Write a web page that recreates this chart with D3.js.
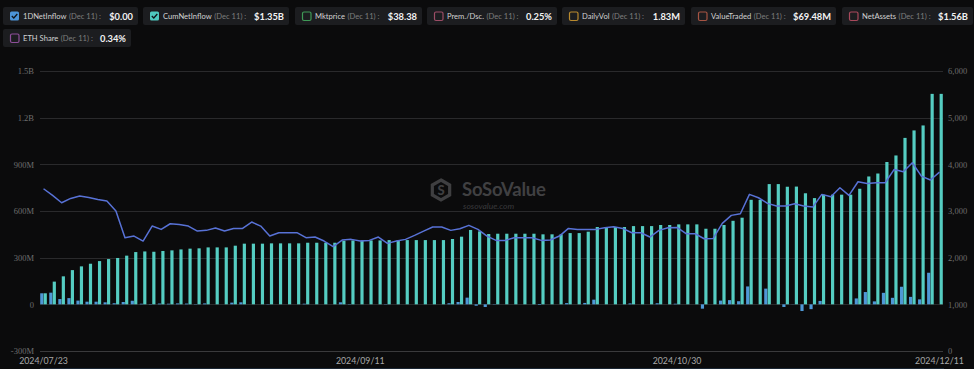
<!DOCTYPE html>
<html><head><meta charset="utf-8">
<script src="https://cdn.jsdelivr.net/npm/d3@7"></script>
<style>
html,body{margin:0;padding:0;background:#0b0b0c;}
svg{display:block;}
</style></head>
<body>
<svg id="chart" width="974" height="369"></svg>
<script>
// ---------- DATA ----------
const dates = [
"2024/07/23","2024/07/24","2024/07/25","2024/07/26","2024/07/29","2024/07/30","2024/07/31",
"2024/08/01","2024/08/02","2024/08/05","2024/08/06","2024/08/07","2024/08/08","2024/08/09","2024/08/12","2024/08/13","2024/08/14","2024/08/15","2024/08/16","2024/08/19","2024/08/20","2024/08/21","2024/08/22","2024/08/23","2024/08/26","2024/08/27","2024/08/28","2024/08/29","2024/08/30",
"2024/09/03","2024/09/04","2024/09/05","2024/09/06","2024/09/09","2024/09/10","2024/09/11","2024/09/12","2024/09/13","2024/09/16","2024/09/17","2024/09/18","2024/09/19","2024/09/20","2024/09/23","2024/09/24","2024/09/25","2024/09/26","2024/09/27","2024/09/30",
"2024/10/01","2024/10/02","2024/10/03","2024/10/04","2024/10/07","2024/10/08","2024/10/09","2024/10/10","2024/10/11","2024/10/14","2024/10/15","2024/10/16","2024/10/17","2024/10/18","2024/10/21","2024/10/22","2024/10/23","2024/10/24","2024/10/25","2024/10/28","2024/10/29","2024/10/30","2024/10/31",
"2024/11/01","2024/11/04","2024/11/05","2024/11/06","2024/11/07","2024/11/08","2024/11/11","2024/11/12","2024/11/13","2024/11/14","2024/11/15","2024/11/18","2024/11/19","2024/11/20","2024/11/21","2024/11/22","2024/11/25","2024/11/26","2024/11/27","2024/11/29",
"2024/12/02","2024/12/03","2024/12/04","2024/12/05","2024/12/06","2024/12/09","2024/12/10","2024/12/11"
];
// 1D net inflow, $M
const dailyNetInflow = [
71,75,34,40,24,17,17,13,7,15,
23,4,-2,5,4,6,5,2,6,0,
0,11,13,0,0,2,0,0,0,4,
0,0,0,13,2,0,0,0,2,0,
0,0,0,0,0,7,15,43,-9,-17,
2,0,0,0,0,-4,0,0,8,0,
9,30,0,0,0,6,0,0,7,0,
4,0,0,-28,0,24,27,20,115,0,
101,0,-17,1,-43,-31,22,0,0,0,
38,79,19,74,42,113,48,32,203,0
];
// cumulative net inflow, $M
const cumNetInflow = [
71,146,180,220,244,261,278,291,298,313,
336,340,338,343,347,353,358,360,366,366,
366,377,390,390,390,392,392,392,392,396,
396,396,396,409,411,411,411,411,413,413,
413,413,413,413,413,420,435,478,469,452,
454,454,454,454,454,450,450,450,458,458,
467,497,497,497,497,503,503,503,510,510,
514,514,514,486,486,510,537,557,672,672,
773,773,756,757,714,683,705,705,705,705,
743,822,841,915,957,1070,1118,1150,1353,1353
];
// ETH price, USD (right axis)
const ethPrice = [
3477,3334,3177,3270,3320,3291,3248,3213,2999,2428,
2463,2356,2677,2606,2727,2713,2677,2570,2585,2635,
2570,2627,2627,2763,2677,2463,2535,2535,2535,2428,
2442,2356,2235,2378,2392,2356,2370,2442,2306,2356,
2392,2477,2570,2656,2656,2585,2620,2692,2606,2463,
2370,2370,2428,2428,2428,2370,2378,2463,2627,2606,
2606,2606,2642,2663,2627,2535,2535,2442,2585,2642,
2649,2513,2513,2406,2413,2734,2906,2942,3356,3284,
3163,3106,3106,3156,3106,3084,3356,3306,3498,3334,
3627,3591,3605,3605,3891,3841,4034,3748,3663,3834
];
const leftTicks = [-300,0,300,600,900,1200,1500];
const leftTickLabels = ["-300M","0","300M","600M","900M","1.2B","1.5B"];
const rightTicks = [0,1000,2000,3000,4000,5000,6000];
const xTickLabels = ["2024/07/23","2024/09/11","2024/10/30","2024/12/11"];

const legendNames = ["1DNetInflow","CumNetInflow","Mktprice","Prem./Dsc.","DailyVol","ValueTraded","NetAssets","ETH Share"];
const legendValues = ["$0.00","$1.35B","$38.38","0.25%","1.83M","$69.48M","$1.56B","0.34%"];
const legendDate = "(Dec 11) :";
const legendChecked = [true,true,false,false,false,false,false,false];
const legendColors = ["#4c94d8","#4ec9bf","#3f9a57","#9c4d66","#b98a2e","#a65443","#a9495c","#8d4f99"];

// ---------- LAYOUT ----------
const svg = d3.select("#chart");
const plotL = 39, plotR = 944, plotT = 71, plotB = 351;

const x = d3.scaleBand().domain(dates).range([plotL, plotR]).padding(0);
const xSub = d3.scaleBand().domain(["daily","cum"]).range([0, x.bandwidth()]).paddingInner(0.08).paddingOuter(0.35);
const yL = d3.scaleLinear().domain([-300,1500]).range([plotB, plotT]);
const yR = d3.scaleLinear().domain([0,6000]).range([plotB, plotT]);

// gridlines
svg.append("g").selectAll("line").data(leftTicks).join("line")
  .attr("x1", plotL+1).attr("x2", plotR-1)
  .attr("y1", d=>Math.round(yL(d))+0.5).attr("y2", d=>Math.round(yL(d))+0.5)
  .attr("stroke", d=> d===-300 ? "#3a3a3c" : "#2a2a2c").attr("stroke-width",1);

// left axis
const axL = d3.axisLeft(yL).tickValues(leftTicks).tickSize(0).tickPadding(5)
  .tickFormat(d=>leftTickLabels[leftTicks.indexOf(d)]);
const gL = svg.append("g").attr("transform",`translate(${plotL},0)`).call(axL);
gL.select(".domain").remove();
gL.selectAll("text").attr("fill","#6e6e6e").style("font-family","'Liberation Serif', serif").style("font-size","8.5px");

// right axis
const axR = d3.axisRight(yR).tickValues(rightTicks).tickSize(0).tickPadding(4).tickFormat(d3.format(","));
const gR = svg.append("g").attr("transform",`translate(${plotR},0)`).call(axR);
gR.select(".domain").remove();
gR.selectAll("text").attr("fill","#6e6e6e").style("font-family","'Liberation Serif', serif").style("font-size","8.5px");

// x axis
const axX = d3.axisBottom(x).tickValues(xTickLabels).tickSize(0).tickPadding(7);
const gX = svg.append("g").attr("transform",`translate(0,${plotB})`).call(axX);
gX.select(".domain").remove();
gX.selectAll("text").attr("fill","#a8a8a8").style("font-family","Lato, sans-serif").style("font-size","8.8px");

// watermark
const wm = svg.append("g");
const hx = 441, hy = 190, hr = 10;
const hex = d3.range(6).map(k=>{const a=Math.PI/3*k - Math.PI/2; return [hx+hr*Math.cos(a), hy+hr*Math.sin(a)];});
wm.append("path").attr("d", d3.line()(hex)+"Z").attr("fill","none").attr("stroke","#3f3f41").attr("stroke-width",3.2);
wm.append("text").attr("x",hx).attr("y",hy+4.5).attr("text-anchor","middle").attr("fill","#3f3f41")
  .style("font-family","Lato, sans-serif").style("font-weight","900").style("font-size","13px").text("S");
wm.append("text").attr("x",462).attr("y",196).attr("fill","#404042")
  .style("font-family","Lato, sans-serif").style("font-weight","700").style("font-size","18.5px").style("letter-spacing","-0.2px").text("SoSoValue");
wm.append("text").attr("x",463).attr("y",208.5).attr("fill","#3a3a3c")
  .style("font-family","Lato, sans-serif").style("font-style","italic").style("font-size","8.5px").text("sosovalue.com");

// bars
const bars = svg.append("g");
bars.selectAll("rect.daily").data(dates).join("rect").attr("class","daily")
  .attr("x", d=>x(d)+xSub("daily")).attr("width", xSub.bandwidth())
  .attr("y", (d,i)=>yL(Math.max(0,dailyNetInflow[i])))
  .attr("height", (d,i)=>Math.abs(yL(dailyNetInflow[i])-yL(0)))
  .attr("fill","#4f98d6");
bars.selectAll("rect.cum").data(dates).join("rect").attr("class","cum")
  .attr("x", d=>x(d)+xSub("cum")).attr("width", xSub.bandwidth())
  .attr("y", (d,i)=>yL(Math.max(0,cumNetInflow[i])))
  .attr("height", (d,i)=>Math.abs(yL(cumNetInflow[i])-yL(0)))
  .attr("fill","#55cdc2");

// line
const line = d3.line().x((d,i)=>x(dates[i])+x.bandwidth()/2).y(d=>yR(d));
svg.append("path").datum(ethPrice).attr("d",line).attr("fill","none")
  .attr("stroke","#5872d6").attr("stroke-width",1.5).attr("stroke-linejoin","round");

// bottom slider edge
svg.append("line").attr("x1",plotL+1).attr("x2",plotR).attr("y1",368.5).attr("y2",368.5).attr("stroke","#1b2633").attr("stroke-width",1);

// legend
const boxes = [[3,138,7],[143,289,7],[295,422,7],[427,557,7],[562,685,7],[691,836,7],[842,973,7],[3,131,29]];
const lg = svg.append("g");
legendNames.forEach((name,i)=>{
  const [l,r,t] = boxes[i];
  const g = lg.append("g");
  g.append("rect").attr("x",l).attr("y",t).attr("width",r-l).attr("height",18).attr("rx",2).attr("fill","#1c1d20");
  const c = legendColors[i];
  if (legendChecked[i]) {
    g.append("rect").attr("x",l+7).attr("y",t+4.5).attr("width",9).attr("height",9).attr("rx",1.5).attr("fill",c);
    g.append("path").attr("d",`M${l+8.8},${t+9} L${l+10.8},${t+11} L${l+14.3},${t+7}`).attr("fill","none").attr("stroke","#10141a").attr("stroke-width",1.3);
  } else {
    g.append("rect").attr("x",l+7.5).attr("y",t+5).attr("width",8.5).attr("height",8.5).attr("rx",1.5).attr("fill","none").attr("stroke",c).attr("stroke-width",1.2);
  }
  const tx = g.append("text").attr("x",l+20).attr("y",t+12.2).attr("fill","#d2d2d2")
    .style("font-family","Lato, sans-serif").style("font-size","7.6px").text(name);
  const w = tx.node().getComputedTextLength();
  g.append("text").attr("x",l+20+w+2.5).attr("y",t+12.2).attr("fill","#7d7d7d")
    .style("font-family","Lato, sans-serif").style("font-size","7.6px").text(legendDate);
  g.append("text").attr("x",r-5).attr("y",t+12.5).attr("text-anchor","end").attr("fill","#f2f2f2")
    .style("font-family","Lato, sans-serif").style("font-weight","700").style("font-size","9.3px").text(legendValues[i]);
});
</script>
</body></html>
